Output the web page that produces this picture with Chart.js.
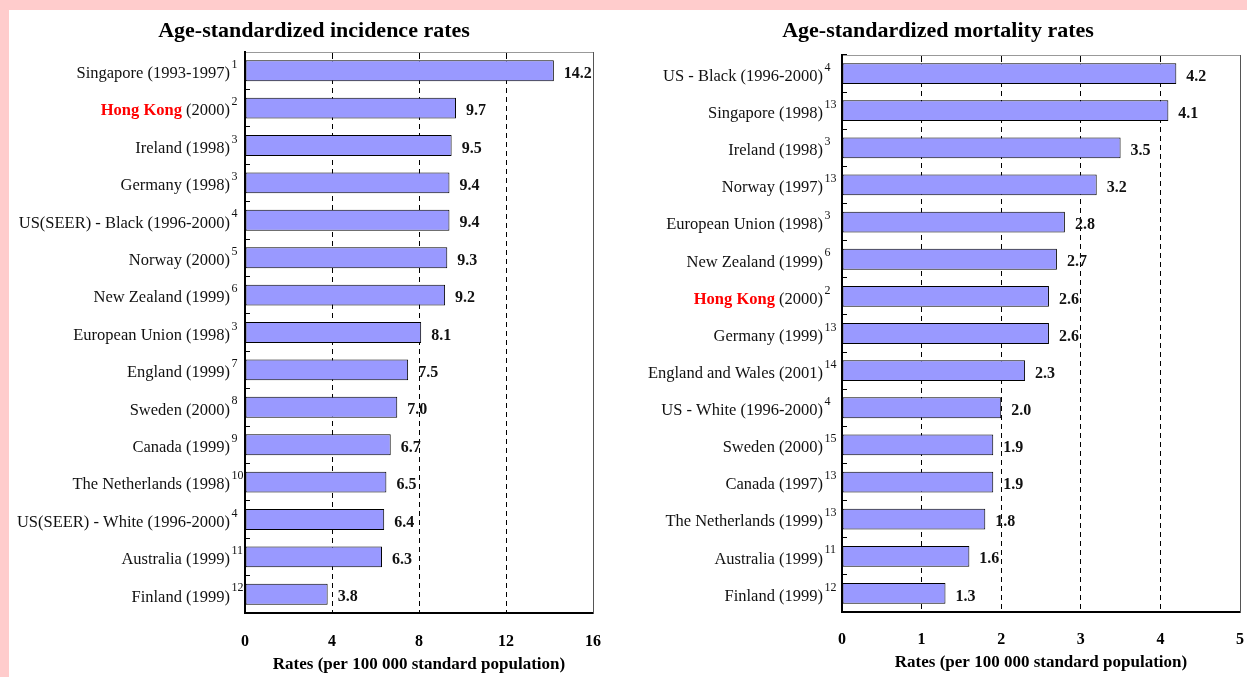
<!DOCTYPE html>
<html>
<head>
<meta charset="utf-8">
<script src="https://cdn.jsdelivr.net/npm/chart.js@4/dist/chart.umd.min.js"></script>
<style>
  html, body { margin: 0; padding: 0; }
  body { width: 1247px; height: 677px; background: #FFCCCC; position: relative; overflow: hidden; }
  #sheet { position: absolute; left: 9px; top: 10px; right: 0; bottom: 0; background: #FFFFFF; }
  #incWrap { position: absolute; left: 9px; top: 10px; width: 609px; height: 667px; }
  #morWrap { position: absolute; left: 628px; top: 10px; width: 619px; height: 667px; }
</style>
</head>
<body>
<div id="sheet"></div>
<div id="incWrap"><canvas id="incChart" width="609" height="667"></canvas></div>
<div id="morWrap"><canvas id="morChart" width="619" height="667"></canvas></div>
<script>
// ---- Incidence (per 100 000, age-standardized) ----
const incPlaces = ["Singapore", "Hong Kong", "Ireland", "Germany", "US(SEER) - Black", "Norway",
  "New Zealand", "European Union", "England", "Sweden", "Canada", "The Netherlands",
  "US(SEER) - White", "Australia", "Finland"];
const incPeriods = ["(1993-1997)", "(2000)", "(1998)", "(1998)", "(1996-2000)", "(2000)",
  "(1999)", "(1998)", "(1999)", "(2000)", "(1999)", "(1998)", "(1996-2000)", "(1999)", "(1999)"];
const incRefs = ["1", "2", "3", "3", "4", "5", "6", "3", "7", "8", "9", "10", "4", "11", "12"];
const incValues = [14.2, 9.7, 9.5, 9.4, 9.4, 9.3, 9.2, 8.1, 7.5, 7.0, 6.7, 6.5, 6.4, 6.3, 3.8];
const incTicks = [0, 4, 8, 12, 16];

// ---- Mortality (per 100 000, age-standardized) ----
const morPlaces = ["US - Black", "Singapore", "Ireland", "Norway", "European Union", "New Zealand",
  "Hong Kong", "Germany", "England and Wales", "US - White", "Sweden", "Canada",
  "The Netherlands", "Australia", "Finland"];
const morPeriods = ["(1996-2000)", "(1998)", "(1998)", "(1997)", "(1998)", "(1999)", "(2000)",
  "(1999)", "(2001)", "(1996-2000)", "(2000)", "(1997)", "(1999)", "(1999)", "(1999)"];
const morRefs = ["4", "13", "3", "13", "3", "6", "2", "13", "14", "4", "15", "13", "13", "11", "12"];
const morValues = [4.2, 4.1, 3.5, 3.2, 2.8, 2.7, 2.6, 2.6, 2.3, 2.0, 1.9, 1.9, 1.8, 1.6, 1.3];
const morTicks = [0, 1, 2, 3, 4, 5];

const highlightPlace = "Hong Kong";
const axisTitle = "Rates (per 100 000 standard population)";
const serif = "'Liberation Serif', 'Times New Roman', serif";

// Panel heading, row labels (place, period, raised reference number)
// and the value printed after each bar.
function rowLabels(cfg) {
  return {
    id: 'rowLabels',
    afterDatasetsDraw(chart) {
      const { ctx, chartArea } = chart;
      const x = chart.scales.x, y = chart.scales.y;
      const data = chart.data.datasets[0].data;
      const rightEdge = chartArea.left - cfg.gap;
      ctx.save();
      ctx.textBaseline = 'middle';

      ctx.textAlign = 'center';
      ctx.fillStyle = '#000000';
      ctx.font = `bold 22px ${serif}`;
      ctx.fillText(cfg.title, cfg.titleX, 21);

      cfg.places.forEach((place, i) => {
        const cy = y.getPixelForValue(i) + 3;
        ctx.textAlign = 'right';
        ctx.font = `16.5px ${serif}`;
        const tail = ' ' + cfg.periods[i];
        const tailW = ctx.measureText(tail).width;
        ctx.fillStyle = '#111111';
        ctx.fillText(tail, rightEdge, cy);
        const hi = place === highlightPlace;
        ctx.font = `${hi ? 'bold ' : ''}16.5px ${serif}`;
        ctx.fillStyle = hi ? '#FF0000' : '#111111';
        ctx.fillText(place, rightEdge - tailW, cy);

        ctx.textAlign = 'left';
        ctx.font = `12px ${serif}`;
        ctx.fillStyle = '#111111';
        ctx.fillText(cfg.refs[i], rightEdge + 1.5, cy - 9);

        ctx.font = `bold 16px ${serif}`;
        ctx.fillStyle = '#111111';
        ctx.fillText(data[i].toFixed(1), x.getPixelForValue(data[i]) + 10, cy);
      });
      ctx.restore();
    }
  };
}

function buildChart(canvasId, cfg) {
  const maxV = cfg.ticks[cfg.ticks.length - 1];
  const innerGrid = (c) => (c.tick && (c.tick.value === 0 || c.tick.value === maxV)) ? 'rgba(0,0,0,0)' : '#000000';
  return new Chart(document.getElementById(canvasId), {
    type: 'bar',
    data: {
      labels: cfg.places.map((p, i) => p + ' ' + cfg.periods[i]),
      datasets: [{
        data: cfg.values,
        backgroundColor: '#9999FF',
        borderColor: '#000000',
        borderWidth: 1,
        borderSkipped: false,
        barPercentage: 0.56,
        categoryPercentage: 1.0
      }]
    },
    options: {
      indexAxis: 'y',
      responsive: false,
      animation: false,
      layout: { padding: { left: cfg.left, right: cfg.right, top: cfg.top, bottom: 0 } },
      plugins: {
        legend: { display: false },
        tooltip: { enabled: false },
        title: { display: false }
      },
      scales: {
        x: {
          type: 'linear',
          position: 'bottom',
          min: 0, max: maxV,
          afterBuildTicks: (s) => { s.ticks = cfg.ticks.map(v => ({ value: v })); },
          afterFit: (s) => { s.height = cfg.xHeight; },
          grid: { color: innerGrid, lineWidth: 1, drawTicks: true, tickLength: cfg.tickGap, tickColor: 'rgba(0,0,0,0)' },
          border: { display: true, color: '#000000', width: 2, dash: [5, 4] },
          ticks: { color: '#000000', padding: 0, font: { family: serif, size: 16, weight: 'bold' }, maxRotation: 0 },
          title: { display: true, text: axisTitle, color: '#000000', font: { family: serif, size: 17, weight: 'bold' }, padding: { top: 0, bottom: cfg.titlePad } }
        },
        xTop: {
          type: 'linear',
          position: 'top',
          min: 0, max: maxV,
          afterBuildTicks: (s) => { s.ticks = cfg.ticks.map(v => ({ value: v })); },
          afterFit: (s) => { s.height = 0; },
          grid: { drawOnChartArea: false, drawTicks: true, tickLength: -7, color: innerGrid, lineWidth: 1 },
          border: { display: true, color: '#999999', width: 1 },
          ticks: { display: false, padding: 0 }
        },
        y: {
          type: 'category',
          position: 'left',
          afterFit: (s) => { s.width = 0; },
          grid: { drawOnChartArea: false, drawTicks: true, tickLength: -5, color: '#000000', lineWidth: 1, offset: true },
          border: { display: true, color: '#000000', width: 2 },
          ticks: { display: false }
        },
        yRight: {
          type: 'linear',
          position: 'right',
          min: 0, max: 1,
          afterFit: (s) => { s.width = 0; },
          grid: { display: false },
          border: { display: true, color: '#555555', width: 1 },
          ticks: { display: false }
        }
      }
    },
    plugins: [rowLabels(cfg)]
  });
}

buildChart('incChart', {
  title: 'Age-standardized incidence rates', titleX: 305,
  places: incPlaces, periods: incPeriods, refs: incRefs, values: incValues, ticks: incTicks,
  left: 236, right: 25, top: 42, xHeight: 64, tickGap: 19, titlePad: 2, gap: 15
});

buildChart('morChart', {
  title: 'Age-standardized mortality rates', titleX: 310,
  places: morPlaces, periods: morPeriods, refs: morRefs, values: morValues, ticks: morTicks,
  left: 214, right: 7, top: 45, xHeight: 65, tickGap: 18, titlePad: 4, gap: 19
});
</script>
</body>
</html>
